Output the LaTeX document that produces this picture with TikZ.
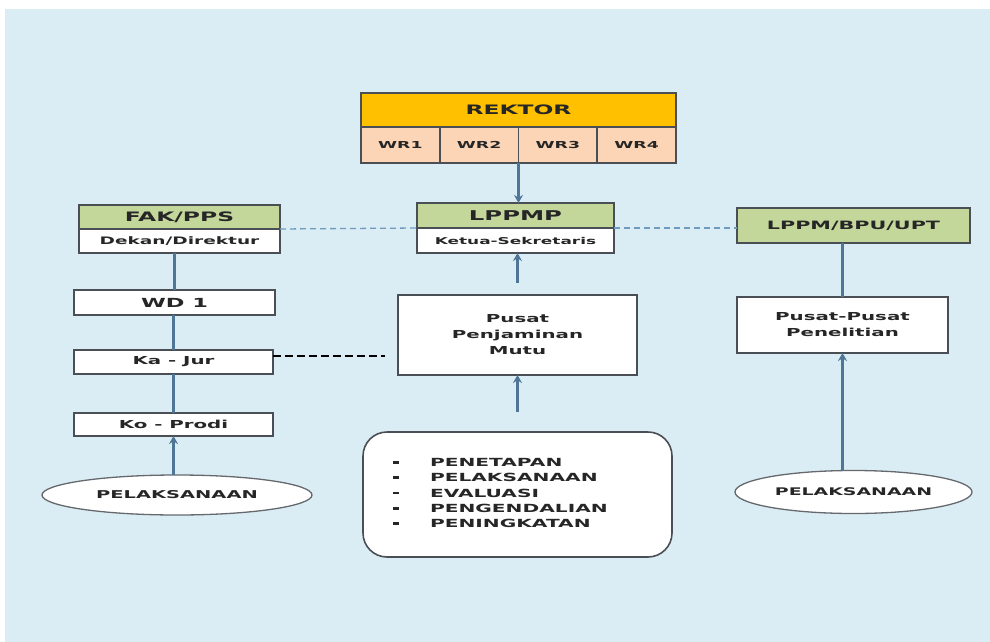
\documentclass[tikz,border=0pt]{standalone}
\usepackage{fontspec}
\setmainfont{DejaVu Sans}[FakeStretch=1.8]
\usetikzlibrary{positioning,shapes.geometric,arrows.meta}
\definecolor{bgblue}{HTML}{DBEDF4}
\definecolor{rektorgold}{HTML}{FFC000}
\definecolor{wrpeach}{HTML}{FBD5B5}
\definecolor{unitgreen}{HTML}{C4D79B}
\definecolor{boxline}{HTML}{4A4F55}
\definecolor{linkblue}{HTML}{4F7597}
\definecolor{dashblue}{HTML}{6F9CBC}
\newcommand{\fsize}[2]{\fontsize{#1}{#2}\selectfont}
\newcommand{\itemdash}{\makebox[37pt][l]{\rule[2.6pt]{6pt}{2.8pt}}}

\begin{document}
\begin{tikzpicture}[x=1pt, y=-1pt,
  every node/.style={font=\bfseries, text=black!85, inner sep=0pt, outer sep=0pt},
  rektorbox/.style={draw=boxline, line width=1.6pt, fill=rektorgold},
  wrcell/.style={draw=boxline, line width=1.6pt, fill=wrpeach, minimum width=78.75, minimum height=36},
  headbox/.style={draw=boxline, line width=1.6pt, fill=unitgreen},
  plainbox/.style={draw=boxline, line width=1.6pt, fill=white},
  ovalbox/.style={ellipse, draw=boxline!85, line width=1.3pt, fill=white},
  link/.style={draw=linkblue, line width=2.6pt},
  linkarrow/.style={link, -{Stealth[length=8pt,width=9pt]}},
  peerdash/.style={draw=dashblue, line width=1.3pt, dash pattern=on 6pt off 4pt},
  jurdash/.style={draw=black, line width=2.4pt, dash pattern=on 8pt off 4pt}]
\useasboundingbox (0,0) rectangle (990,642);
\fill[white] (0,0) rectangle (990,642);
\fill[bgblue] (5,9) rectangle (990,642);

% pimpinan
\node[rektorbox, minimum width=315, minimum height=34] (rektor) at (518.5,110) {\fsize{13}{15}REKTOR};
\node[wrcell, anchor=north west] (wr1) at (rektor.south west) {\fsize{9.6}{11}WR1};
\node[wrcell, right=0pt of wr1] (wr2) {\fsize{9.6}{11}WR2};
\node[wrcell, right=0pt of wr2] (wr3) {\fsize{9.6}{11}WR3};
\node[wrcell, right=0pt of wr3] (wr4) {\fsize{9.6}{11}WR4};

% unit penjaminan mutu
\node[headbox, minimum width=197, minimum height=25] (lppmp) at (515.5,215.5) {\fsize{13.5}{15}LPPMP};
\node[plainbox, minimum width=197, minimum height=25, below=0pt of lppmp] (ketua) {\fsize{9.4}{11}Ketua-Sekretaris};
\node[plainbox, minimum width=239, minimum height=80, align=center, font=\bfseries\fsize{11}{16}] (ppm) at (517.5,335) {Pusat\\Penjaminan\\Mutu};
\node[plainbox, rounded corners=24, minimum width=309, minimum height=125] (listbox) at (517.5,494.5) {};
\node[anchor=west, align=left, font=\bfseries\fsize{11.2}{15.4}] (items) at (393,493) {%
  \itemdash PENETAPAN\\\itemdash PELAKSANAAN\\\itemdash EVALUASI\\%
  \itemdash PENGENDALIAN\\\itemdash PENINGKATAN};

% fakultas
\node[headbox, minimum width=201, minimum height=24] (fak) at (179.5,217) {\fsize{13}{15}FAK/PPS};
\node[plainbox, minimum width=201, minimum height=24, below=0pt of fak] (dekan) {\fsize{10.3}{12}Dekan/Direktur};
\node[plainbox, minimum width=201, minimum height=25] (wd1) at (174.5,302.5) {\fsize{12.5}{14}WD 1};
\node[plainbox, minimum width=199, minimum height=24] (kajur) at (173.5,362) {\fsize{11}{13}Ka - Jur};
\node[plainbox, minimum width=199, minimum height=23] (koprodi) at (173.5,424.5) {\fsize{11}{13}Ko - Prodi};
\node[ovalbox, minimum width=270, minimum height=40] (ell1) at (177,495) {\fsize{10.8}{12}PELAKSANAAN};

% penelitian
\node[headbox, minimum width=233, minimum height=35] (lppm) at (853.5,225.5) {\fsize{11.5}{13}LPPM/BPU/UPT};
\node[plainbox, minimum width=211, minimum height=56, align=center, font=\bfseries\fsize{11}{16}] (pusat2) at (842.5,325) {Pusat-Pusat\\Penelitian};
\node[ovalbox, minimum width=237, minimum height=43] (ell2) at (853.5,492) {\fsize{10.5}{12}PELAKSANAAN};

% garis
\draw[linkarrow] (wr3.south west) -- (wr3.south west |- lppmp.north);
\draw[linkarrow, shorten <=12pt] (ppm.north) -- (ppm.north |- ketua.south);
\draw[linkarrow, shorten <=20pt] (listbox.north) -- (ppm.south);
\draw[link] (wd1.north |- dekan.south) -- (wd1.north);
\draw[link] (wd1.south -| kajur.north) -- (kajur.north);
\draw[link] (kajur.south) -- (koprodi.north);
\draw[linkarrow] (koprodi.south |- ell1.north) -- (koprodi.south);
\draw[link] (pusat2.north |- lppm.south) -- (pusat2.north);
\draw[linkarrow] (pusat2.south |- ell2.north) -- (pusat2.south);
\draw[peerdash] (fak.south east) -- (lppmp.south west);
\draw[peerdash] (lppmp.south east) -- (lppmp.south east -| lppm.west);
\coordinate (jurend) at (385,356);
\draw[jurdash] (kajur.east |- jurend) -- (jurend);
\end{tikzpicture}
\end{document}
